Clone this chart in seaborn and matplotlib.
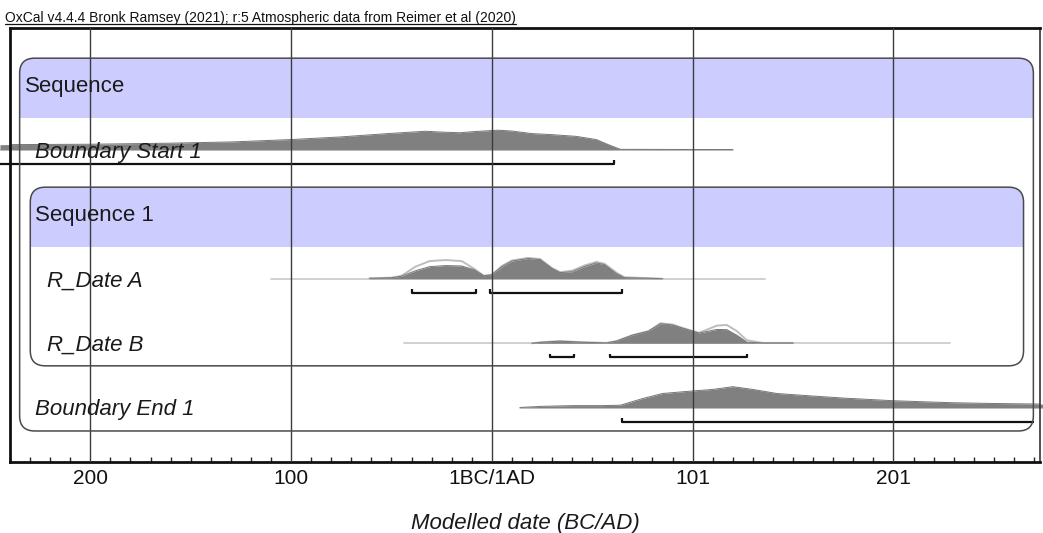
# OxCal multiplot - Sequence with two boundaries and two R_Dates

import numpy as np
import pandas as pd
import matplotlib.pyplot as plt
import seaborn as sns
from matplotlib.patches import FancyBboxPatch, Rectangle
from matplotlib.lines import Line2D
from matplotlib.ticker import MultipleLocator

sns.set_style("white")
plt.rcParams['font.family'] = ['Liberation Sans', 'DejaVu Sans']

# x axis in years, 0 = 1BC/1AD boundary, negative = BC
tick_years = [-200, -100, 0, 100, 200]
tick_labels = ["200", "100", "1BC/1AD", "101", "201"]

title = "OxCal v4.4.4 Bronk Ramsey (2021); r:5 Atmospheric data from Reimer et al (2020)"

# probability curves (relative heights)
start_years = [-245, -200, -160, -129, -100, -76, -52, -40, -33, -25, -16, -8, 3, 10,
               20, 30, 42, 52, 58, 64, 70, 90, 120]
start_prob = [0.24, 0.26, 0.31, 0.37, 0.48, 0.60, 0.76, 0.83, 0.87, 0.83, 0.80, 0.86,
              0.92, 0.88, 0.76, 0.71, 0.63, 0.48, 0.24, 0.02, 0.02, 0.015, 0.01]

a_years = [-61, -50, -45, -38, -31, -23, -15, -9, -4, 0, 5, 10, 18, 24, 30, 34, 40,
           46, 52, 56, 62, 66, 80, 85]
a_post = [0.02, 0.05, 0.12, 0.38, 0.57, 0.62, 0.60, 0.43, 0.14, 0.19, 0.57, 0.83,
          0.95, 0.90, 0.48, 0.29, 0.33, 0.57, 0.74, 0.67, 0.24, 0.05, 0.02, 0.0]
a_prior = [0.02, 0.05, 0.14, 0.57, 0.83, 0.88, 0.83, 0.48, 0.14, 0.19, 0.60, 0.86,
           0.98, 0.93, 0.50, 0.31, 0.38, 0.62, 0.79, 0.71, 0.29, 0.07, 0.02, 0.0]

b_years = [20, 25, 34, 45, 57, 62, 70, 78, 84, 90, 95, 100, 103, 108, 112, 117, 122,
           127, 135, 150]
b_post = [0.0, 0.05, 0.10, 0.05, 0.015, 0.10, 0.38, 0.57, 0.92, 0.86, 0.71, 0.57,
          0.48, 0.57, 0.65, 0.64, 0.38, 0.05, 0.015, 0.015]
b_prior = [0.0, 0.05, 0.10, 0.05, 0.015, 0.10, 0.38, 0.57, 0.94, 0.88, 0.72, 0.58,
           0.49, 0.67, 0.83, 0.86, 0.57, 0.14, 0.015, 0.015]

end_years = [14, 26, 40, 55, 64, 75, 85, 100, 110, 120, 130, 142, 160, 176, 200, 228,
             250, 276]
end_prob = [0.015, 0.07, 0.10, 0.10, 0.12, 0.43, 0.67, 0.79, 0.86, 0.99, 0.86, 0.67,
            0.55, 0.45, 0.33, 0.24, 0.20, 0.17]

# thin lines (full range of each distribution)
start_span = [-245, 120]
a_span = [-110, 136]
b_span = [-44, 228]
end_span = [14, 276]

# 95.4% ranges
start_ranges = [(-245, 61)]
a_ranges = [(-40, -8), (-1, 65)]
b_ranges = [(29, 41), (59, 127)]
end_ranges = [(65, 270)]

items = [
    ("Boundary Start 1", 1, start_years, start_prob, None, start_span, start_ranges),
    ("R_Date A", 3, a_years, a_post, a_prior, a_span, a_ranges),
    ("R_Date B", 4, b_years, b_post, b_prior, b_span, b_ranges),
    ("Boundary End 1", 5, end_years, end_prob, None, end_span, end_ranges),
]

# layout (x in years, y in rows)
xlim = (-240, 273)
ylim = (6.341, -0.388)
peak_h = 0.33
base_off = 0.5
range_off = 0.72
hook = 0.06
blue = "#ccccff"
box_col = "#4a4a4a"
txt_col = "#1a1a1a"

fig = plt.figure(figsize=(10.43, 5.33), dpi=100)
ax = fig.add_axes([10 / 1043, 71 / 533, 1030 / 1043, 434 / 533])
ax.set_xlim(*xlim)
ax.set_ylim(*ylim)

# px per unit: x 2.0075, y 64.5 -> keep rounded corners round
aspect = 2.0075 / 64.5


def seq_box(x0, x1, y0, y1, head_bottom, label, label_x):
    box = FancyBboxPatch((x0, y0), x1 - x0, y1 - y0,
                         boxstyle="round,pad=0,rounding_size=7.5",
                         mutation_aspect=aspect, facecolor="none",
                         edgecolor=box_col, lw=1.1, zorder=5)
    ax.add_patch(box)
    band = Rectangle((x0, y0), x1 - x0, head_bottom - y0, facecolor=blue,
                     edgecolor="none", zorder=0.5)
    ax.add_patch(band)
    band.set_clip_path(box)
    ax.text(label_x, y0 + 0.52, label, fontsize=16, color=txt_col,
            va="baseline", ha="left", zorder=6)


seq_box(-235.2, 269.7, 0.08, 5.86, 1.0, "Sequence", -232.5)
seq_box(-229.9, 264.8, 2.08, 4.85, 3.0, "Sequence 1", -227.5)

label_x = {"Boundary Start 1": -227.3, "R_Date A": -221.5, "R_Date B": -221.5,
           "Boundary End 1": -227.3}

for name, row, yrs, post, prior, span, ranges in items:
    base = row + base_off
    ax.plot(span, [base, base], color="#c8c8c8", lw=1.2, zorder=1,
            clip_on=False)
    if prior is not None:
        prior_df = pd.DataFrame({"year": yrs,
                                 "y": base - np.array(prior) * peak_h})
        sns.lineplot(data=prior_df, x="year", y="y", ax=ax, color="#bdbdbd",
                     lw=1.4, estimator=None, sort=False, zorder=1.2)
    post_y = base - np.array(post) * peak_h
    ax.fill_between(yrs, base, post_y, color="#808080", lw=0, zorder=1.5,
                    clip_on=False)
    post_df = pd.DataFrame({"year": yrs, "y": post_y})
    sns.lineplot(data=post_df, x="year", y="y", ax=ax, color="#767676", lw=0.7,
                 estimator=None, sort=False, zorder=1.6)
    ry = row + range_off
    for lo, hi in ranges:
        xs, ys = [lo, hi], [ry, ry]
        if lo > xlim[0]:
            xs, ys = [lo] + xs, [ry - hook] + ys
        if hi < 269:
            xs, ys = xs + [hi], ys + [ry - hook]
        ax.plot(xs, ys, color="#111111", lw=1.6, zorder=3,
                solid_capstyle="butt", clip_on=False)
    ax.text(label_x[name], row + 0.62, name, fontsize=16, style="italic",
            color=txt_col, va="baseline", ha="left", zorder=6)

# vertical grid at the labelled years
for yr in tick_years:
    ax.axvline(yr, color="#3c3c3c", lw=1.0, zorder=4)

ax.set_xticks(tick_years, tick_labels)
ax.xaxis.set_minor_locator(MultipleLocator(10))
ax.set_yticks([])
ax.tick_params(axis="x", which="major", direction="in", length=8, width=1.3,
               pad=5, labelsize=15, colors="#111111")
ax.tick_params(axis="x", which="minor", direction="in", length=3.5, width=1.0,
               bottom=True)
for side in ["left", "top", "bottom"]:
    ax.spines[side].set_linewidth(2.0)
    ax.spines[side].set_color("#111111")
ax.spines["right"].set_linewidth(1.2)
ax.spines["right"].set_color("#333333")

ax.set_xlabel("Modelled date (BC/AD)", fontsize=16, style="italic",
              color=txt_col, labelpad=18)
ax.set_ylabel("")

t = fig.text(5 / 1043, 1 - 22 / 533, title, fontsize=10, color="#111111",
             va="baseline", ha="left")
fig.canvas.draw()
bb = t.get_window_extent(fig.canvas.get_renderer())
line_y = (bb.y0 + 1.5) / 533
fig.add_artist(Line2D([bb.x0 / 1043, bb.x1 / 1043], [line_y, line_y],
                      transform=fig.transFigure, color="#111111", lw=0.9))

fig.savefig("out.png", dpi=100)
